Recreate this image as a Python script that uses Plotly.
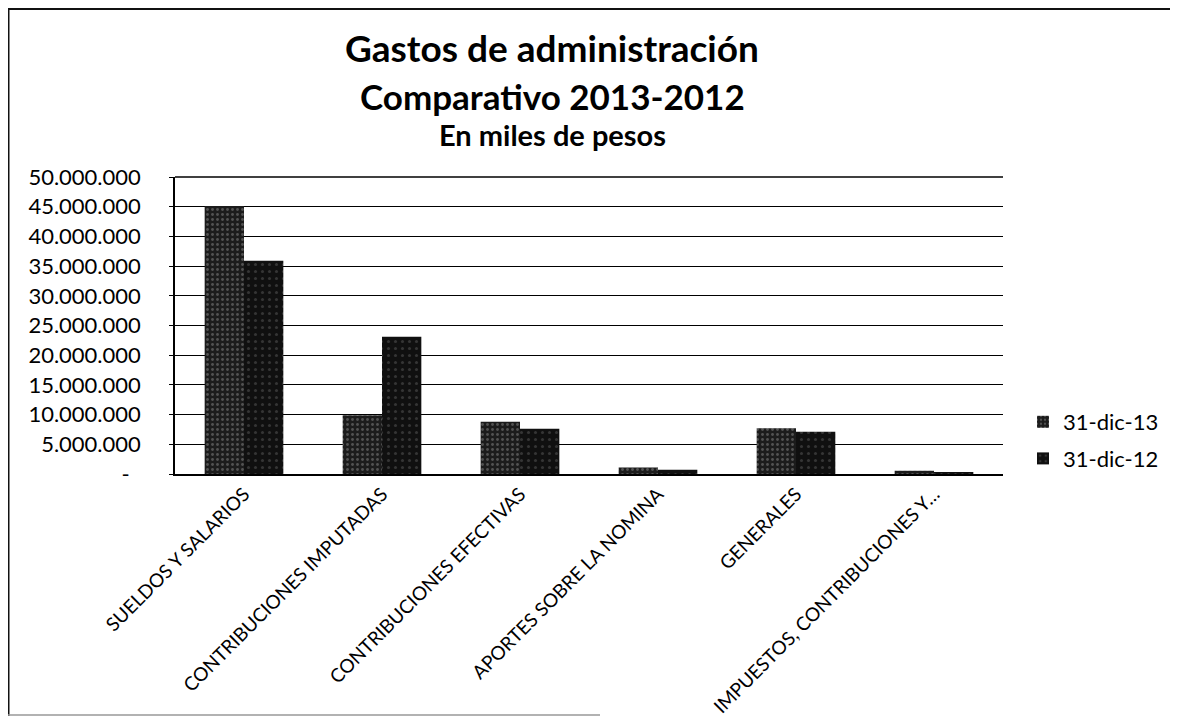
import plotly.graph_objects as go

categories = ["SUELDOS Y SALARIOS", "CONTRIBUCIONES IMPUTADAS", "CONTRIBUCIONES EFECTIVAS",
              "APORTES SOBRE LA NOMINA", "GENERALES", "IMPUESTOS, CONTRIBUCIONES Y…"]
series_names = ["31-dic-13", "31-dic-12"]
values_2013 = [45100000, 9900000, 8800000, 1100000, 7700000, 550000]
values_2012 = [35900000, 23100000, 7600000, 700000, 7100000, 350000]
tick_vals = [0, 5000000, 10000000, 15000000, 20000000, 25000000, 30000000, 35000000, 40000000, 45000000, 50000000]
tick_text = ["-\u00a0\u00a0", "5.000.000", "10.000.000", "15.000.000", "20.000.000", "25.000.000",
             "30.000.000", "35.000.000", "40.000.000", "45.000.000", "50.000.000"]

FONT = "Lato"
OFF = 8  # page offset of the figure inside the browser window
W, H = 1178 - OFF, 717 - OFF
# plot area in screen pixels
SL, SR, ST, SB = 175, 1003, 177, 474
L, R, T, B = SL - OFF, SR - OFF, ST - OFF, SB - OFF

fig = go.Figure()
fig.add_trace(go.Bar(
    x=categories, y=values_2013, name=series_names[0], legendgroup="a",
    marker=dict(color="#1c1c1c", line=dict(width=0),
                pattern=dict(shape=".", fgcolor="#8a8a8a", bgcolor="#1c1c1c", size=5, solidity=0.25)),
))
fig.add_trace(go.Bar(
    x=categories, y=values_2012, name=series_names[1], legendgroup="b",
    marker=dict(color="#101010", line=dict(width=0),
                pattern=dict(shape=".", fgcolor="#5a5a5a", bgcolor="#101010", size=7, solidity=0.15)),
))

def px_x(sx):
    return (sx - SL) / (SR - SL)

def px_y(sy):
    return (SB - sy) / (SB - ST)

shapes = [
    dict(type="line", xref="paper", yref="paper", x0=px_x(8.5), x1=px_x(8.5), y0=px_y(716), y1=px_y(9),
         line=dict(color="#111", width=2)),
    dict(type="line", xref="paper", yref="paper", x0=px_x(8), x1=px_x(1178), y0=px_y(9), y1=px_y(9),
         line=dict(color="#111", width=2)),
    dict(type="line", xref="paper", yref="paper", x0=px_x(8), x1=px_x(600), y0=px_y(715), y1=px_y(715),
         line=dict(color="#999", width=1.5)),
    dict(type="line", xref="paper", yref="paper", x0=0, x1=1, y0=1, y1=1,
         line=dict(color="#000", width=1.5)),
]

title_cx = px_x(552)
annotations = [
    dict(text="<b>Gastos de administración</b>", x=title_cx, y=px_y(47), xref="paper", yref="paper",
         showarrow=False, font=dict(family=FONT, size=37, color="#000"), xanchor="center", yanchor="middle"),
    dict(text="<b>Comparativo 2013-2012</b>", x=title_cx, y=px_y(96), xref="paper", yref="paper",
         showarrow=False, font=dict(family=FONT, size=35, color="#000"), xanchor="center", yanchor="middle"),
    dict(text="<b>En miles de pesos</b>", x=title_cx, y=px_y(134), xref="paper", yref="paper",
         showarrow=False, font=dict(family=FONT, size=29, color="#000"), xanchor="center", yanchor="middle"),
]

fig.update_layout(
    width=W, height=H,
    margin=dict(l=L, r=W - R, t=T, b=H - B, autoexpand=False),
    paper_bgcolor="white", plot_bgcolor="white",
    barmode="group", bargap=0.43, bargroupgap=0.0,
    font=dict(family=FONT, color="#000"),
    showlegend=True,
    legend=dict(x=px_x(1023), y=px_y(401), xanchor="left", yanchor="top",
                font=dict(family=FONT, size=22, color="#000"),
                tracegroupgap=5, traceorder="grouped", bgcolor="rgba(0,0,0,0)"),
    shapes=shapes, annotations=annotations,
    xaxis=dict(showline=True, linecolor="#000", linewidth=1.5, tickangle=-45,
               tickfont=dict(family=FONT, size=19, color="#000"), ticks="", showgrid=False,
               automargin=False),
    yaxis=dict(range=[0, 50000000], tickvals=tick_vals, ticktext=tick_text,
               tickfont=dict(family=FONT, size=22, color="#000"),
               showgrid=True, gridcolor="#000", gridwidth=1,
               showline=True, linecolor="#000", linewidth=1.5, ticks="outside", ticklen=4,
               tickcolor="#000", zeroline=False, ticklabelstandoff=24, automargin=False),
)

fig.write_html("out.html")
